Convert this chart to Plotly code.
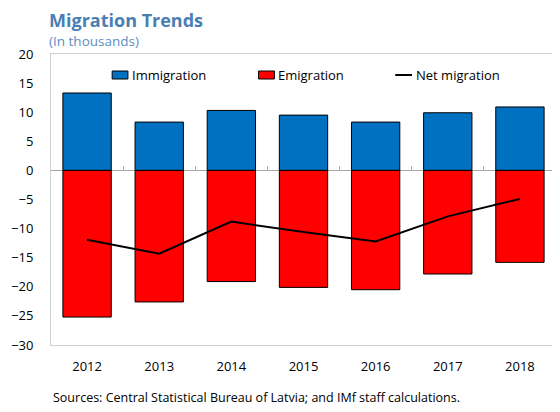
import plotly.graph_objects as go

years = ["2012", "2013", "2014", "2015", "2016", "2017", "2018"]
immigration = [13.3, 8.3, 10.3, 9.5, 8.3, 9.9, 10.9]
emigration = [-25.2, -22.6, -19.1, -20.1, -20.5, -17.8, -15.8]
net_migration = [-11.9, -14.3, -8.8, -10.6, -12.2, -7.9, -4.9]
series_names = ["Immigration", "Emigration", "Net migration"]
y_ticks = [20, 15, 10, 5, 0, -5, -10, -15, -20, -25, -30]

xs = list(range(len(years)))
FONT = "Open Sans"
BLUE = "#0070C0"
RED = "#FF0000"

# figure geometry (page has 8px body margin)
W, H = 552, 404
L, R, T, B = 37, 3, 46, 67
PW, PH = W - L - R, H - T - B


def px(xp):
    return (xp - L) / PW


def py(yp):
    return (H - B - yp) / PH


fig = go.Figure()
fig.add_trace(go.Bar(x=xs, y=immigration, name=series_names[0], width=0.67,
                     marker=dict(color=BLUE, line=dict(color="#000000", width=1))))
fig.add_trace(go.Bar(x=xs, y=emigration, name=series_names[1], width=0.67,
                     marker=dict(color=RED, line=dict(color="#000000", width=1))))
fig.add_trace(go.Scatter(x=xs, y=net_migration, name=series_names[2], mode="lines",
                         line=dict(color="#000000", width=2)))
fig.add_trace(go.Scatter(x=xs, y=[0] * len(xs), xaxis="x2", mode="none",
                         showlegend=False, hoverinfo="skip"))

shapes = [
    dict(type="rect", xref="paper", yref="paper", x0=px(99), x1=px(115), y0=py(71), y1=py(63),
         fillcolor=BLUE, line=dict(color="#000000", width=1)),
    dict(type="rect", xref="paper", yref="paper", x0=px(247.5), x1=px(263.5), y0=py(71), y1=py(63),
         fillcolor=RED, line=dict(color="#000000", width=1)),
    dict(type="line", xref="paper", yref="paper", x0=px(386), x1=px(403), y0=py(67), y1=py(67),
         line=dict(color="#000000", width=2)),
]

legend_ann = []
for name, xpos in zip(series_names, [117, 265.5, 405]):
    legend_ann.append(dict(text=name, xref="paper", yref="paper", x=px(xpos), y=py(67),
                           xanchor="left", yanchor="middle", showarrow=False,
                           font=dict(family=FONT, size=13, color="#000000")))

fig.update_layout(
    width=W, height=H,
    margin=dict(l=L, r=R, t=T, b=B),
    paper_bgcolor="white", plot_bgcolor="white",
    barmode="relative",
    font=dict(family=FONT, size=13, color="#000000"),
    showlegend=False,
    xaxis=dict(range=[-0.5, 6.5], tickmode="array", tickvals=xs, ticktext=years,
               showgrid=False, zeroline=False, ticks="", ticklabelstandoff=9,
               showline=True, mirror=True, linecolor="#D0D0D0", linewidth=1,
               tickfont=dict(size=13)),
    xaxis2=dict(range=[-0.5, 6.5], overlaying="x", anchor="free", position=0.6,
                tickmode="array", tickvals=[0.5, 1.5, 2.5, 3.5, 4.5, 5.5],
                showticklabels=False, ticks="inside", ticklen=4, tickcolor="#B0B0B0",
                showgrid=False, zeroline=False, showline=False),
    yaxis=dict(range=[-30, 20], tickmode="array", tickvals=y_ticks,
               showgrid=False, zeroline=True, zerolinecolor="#A6A6A6", zerolinewidth=1,
               ticks="", ticklabelstandoff=14,
               showline=True, mirror=True, linecolor="#D0D0D0", linewidth=1,
               tickfont=dict(size=13)),
    shapes=shapes,
    annotations=[
        dict(text="<b>Migration Trends</b>", xref="paper", yref="paper", x=0, y=1,
             xanchor="left", yanchor="middle", yshift=34, xshift=-3, showarrow=False,
             borderpad=0, font=dict(family=FONT, size=18, color="#4A7EB3")),
        dict(text="(In thousands)", xref="paper", yref="paper", x=0, y=1,
             xanchor="left", yanchor="middle", yshift=13, xshift=-3, showarrow=False,
             borderpad=0, font=dict(family=FONT, size=13.5, color="#5B8EC4")),
        dict(text="Sources: Central Statistical Bureau of Latvia; and IMf staff calculations.",
             xref="paper", yref="paper", x=0, y=0, xanchor="left", yanchor="middle",
             yshift=-52, xshift=0, showarrow=False,
             font=dict(family=FONT, size=12.5, color="#000000")),
    ] + legend_ann,
)

fig.write_html("out.html")
